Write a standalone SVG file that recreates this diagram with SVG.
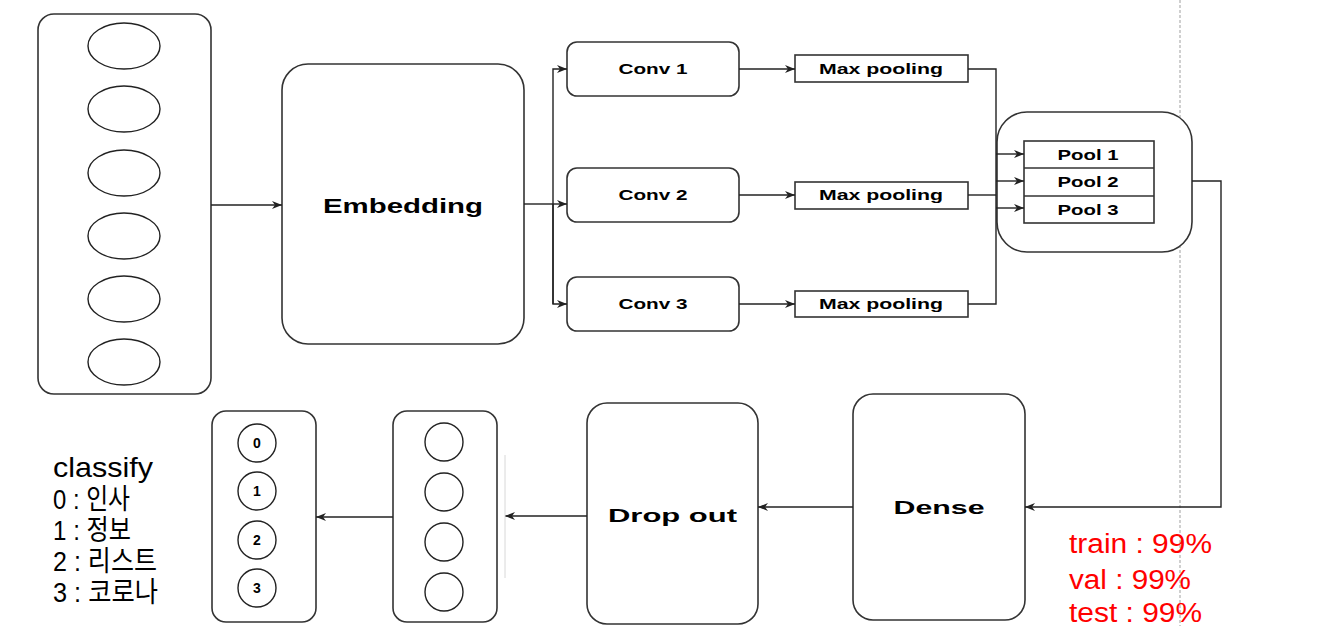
<svg xmlns="http://www.w3.org/2000/svg" width="1325" height="626" viewBox="0 0 1325 626">
<style>
.box{fill:#fff;stroke:#333;stroke-width:1.6}
.sq{fill:#fff;stroke:#333;stroke-width:1.6}
.neu{fill:#fff;stroke:#222;stroke-width:1.4}
.lbl{font-family:"Liberation Sans",Arial,sans-serif;font-weight:bold;fill:#000;text-anchor:middle}
.con{fill:none;stroke:#222;stroke-width:1.4}
.red{font-family:"Liberation Sans",Arial,sans-serif;font-size:27px;fill:#ff0000}
.cls{font-family:"Liberation Sans","Noto Sans CJK KR",sans-serif;font-size:28px;fill:#000}
</style>
<defs>
<marker id="arr" viewBox="0 0 10 10" refX="10" refY="5" markerWidth="10" markerHeight="10" markerUnits="userSpaceOnUse" orient="auto">
<path d="M0,1 L10,5 L0,9 L3,5 z" fill="#222"/>
</marker>
</defs>
<rect width="1325" height="626" fill="#fff"/>
<line x1="1180" y1="0" x2="1180" y2="626" stroke="#cfcfcf" stroke-width="2" stroke-dasharray="3 2"/>

<g id="input">
<rect class="box" x="38" y="14" width="173" height="380" rx="16"/>
<ellipse class="neu" cx="124" cy="46" rx="36" ry="23"/>
<ellipse class="neu" cx="124" cy="109" rx="36" ry="23"/>
<ellipse class="neu" cx="124" cy="173" rx="36" ry="23"/>
<ellipse class="neu" cx="124" cy="236" rx="36" ry="23"/>
<ellipse class="neu" cx="124" cy="299" rx="36" ry="23"/>
<ellipse class="neu" cx="124" cy="362" rx="36" ry="23"/>
</g>

<g id="embedding">
<rect class="box" x="282" y="64" width="242" height="280" rx="26"/>
<text class="lbl" x="403" y="213" font-size="21" textLength="160" lengthAdjust="spacingAndGlyphs">Embedding</text>
</g>

<g id="conv1">
<rect class="box" x="567" y="42" width="172" height="54" rx="10"/>
<text class="lbl" x="653" y="74" font-size="14" textLength="69" lengthAdjust="spacingAndGlyphs">Conv 1</text>
</g>
<g id="conv2">
<rect class="box" x="567" y="168" width="172" height="54" rx="10"/>
<text class="lbl" x="653" y="200" font-size="14" textLength="69" lengthAdjust="spacingAndGlyphs">Conv 2</text>
</g>
<g id="conv3">
<rect class="box" x="567" y="277" width="172" height="54" rx="10"/>
<text class="lbl" x="653" y="309" font-size="14" textLength="69" lengthAdjust="spacingAndGlyphs">Conv 3</text>
</g>

<g id="maxpool1">
<rect class="sq" x="795" y="55" width="173" height="27"/>
<text class="lbl" x="881" y="74" font-size="14" textLength="124" lengthAdjust="spacingAndGlyphs">Max pooling</text>
</g>
<g id="maxpool2">
<rect class="sq" x="795" y="182" width="173" height="27"/>
<text class="lbl" x="881" y="200" font-size="14" textLength="124" lengthAdjust="spacingAndGlyphs">Max pooling</text>
</g>
<g id="maxpool3">
<rect class="sq" x="795" y="291" width="173" height="26"/>
<text class="lbl" x="881" y="309" font-size="14" textLength="124" lengthAdjust="spacingAndGlyphs">Max pooling</text>
</g>

<g id="pool-container">
<rect class="box" x="997" y="112" width="195" height="140" rx="30"/>
</g>
<g id="pools">
<rect class="sq" x="1024" y="141" width="130" height="82"/>
<line x1="1024" y1="168" x2="1154" y2="168" stroke="#333" stroke-width="1.6"/>
<line x1="1024" y1="196" x2="1154" y2="196" stroke="#333" stroke-width="1.6"/>
<text class="lbl" x="1088" y="159.5" font-size="14" textLength="61" lengthAdjust="spacingAndGlyphs">Pool 1</text>
<text class="lbl" x="1088" y="187" font-size="14" textLength="61" lengthAdjust="spacingAndGlyphs">Pool 2</text>
<text class="lbl" x="1088" y="214.5" font-size="14" textLength="61" lengthAdjust="spacingAndGlyphs">Pool 3</text>
</g>

<g id="dense">
<rect class="box" x="853" y="394" width="172" height="226" rx="20"/>
<text class="lbl" x="939" y="514" font-size="18" textLength="91" lengthAdjust="spacingAndGlyphs">Dense</text>
</g>

<g id="dropout">
<rect class="box" x="587" y="403" width="171" height="221" rx="20"/>
<text class="lbl" x="672.5" y="522" font-size="18" textLength="129" lengthAdjust="spacingAndGlyphs">Drop out</text>
</g>

<g id="hidden">
<rect class="box" x="393" y="411" width="104" height="211" rx="14"/>
<circle class="neu" cx="444" cy="442" r="19"/>
<circle class="neu" cx="444" cy="492" r="19"/>
<circle class="neu" cx="444" cy="542" r="19"/>
<circle class="neu" cx="444" cy="592" r="19"/>
</g>

<g id="output">
<rect class="box" x="212" y="411" width="104" height="211" rx="14"/>
<circle class="neu" cx="257" cy="443" r="19"/>
<circle class="neu" cx="257" cy="491" r="19"/>
<circle class="neu" cx="257" cy="540" r="19"/>
<circle class="neu" cx="257" cy="588" r="19"/>
<text class="lbl" x="257" y="448" font-size="14">0</text>
<text class="lbl" x="257" y="496" font-size="14">1</text>
<text class="lbl" x="257" y="545" font-size="14">2</text>
<text class="lbl" x="257" y="593" font-size="14">3</text>
</g>

<g id="classify-legend">
<text class="cls" x="53" y="477" textLength="100" lengthAdjust="spacingAndGlyphs">classify</text>
<text class="cls" x="53" y="509" textLength="77" lengthAdjust="spacingAndGlyphs">0 : 인사</text>
<text class="cls" x="53" y="540" textLength="78" lengthAdjust="spacingAndGlyphs">1 : 정보</text>
<text class="cls" x="53" y="571" textLength="104" lengthAdjust="spacingAndGlyphs">2 : 리스트</text>
<text class="cls" x="53" y="602" textLength="105" lengthAdjust="spacingAndGlyphs">3 : 코로나</text>
</g>

<g id="accuracy">
<text class="red" x="1069" y="553" textLength="143" lengthAdjust="spacingAndGlyphs">train : 99%</text>
<text class="red" x="1069" y="589" textLength="122" lengthAdjust="spacingAndGlyphs">val : 99%</text>
<text class="red" x="1069" y="622" textLength="133" lengthAdjust="spacingAndGlyphs">test : 99%</text>
</g>

<g id="connectors">
<path class="con" d="M211,205 L282,205" marker-end="url(#arr)"/>
<path class="con" d="M524,204 L553,204"/>
<path class="con" d="M553,204 L567,204" marker-end="url(#arr)"/>
<path class="con" d="M553,304 L553,69 L567,69" marker-end="url(#arr)"/>
<path class="con" d="M553,204 L553,304 L567,304" marker-end="url(#arr)"/>
<path class="con" d="M739,69 L795,69" marker-end="url(#arr)"/>
<path class="con" d="M739,195 L795,195" marker-end="url(#arr)"/>
<path class="con" d="M739,304 L795,304" marker-end="url(#arr)"/>
<path class="con" d="M968,69 L996,69 L996,304 L968,304"/>
<path class="con" d="M968,195 L996,195"/>
<path class="con" d="M996,154 L1024,154" marker-end="url(#arr)"/>
<path class="con" d="M996,181 L1024,181" marker-end="url(#arr)"/>
<path class="con" d="M996,208 L1024,208" marker-end="url(#arr)"/>
<path class="con" d="M1192,181 L1221,181 L1221,507 L1025,507" marker-end="url(#arr)"/>
<path class="con" d="M853,507 L758,507" marker-end="url(#arr)"/>
<path class="con" d="M587,516 L505,516" marker-end="url(#arr)"/>
<line x1="505" y1="455" x2="505" y2="578" stroke="#d8d8d8" stroke-width="1"/>
<path class="con" d="M393,517 L316,517" marker-end="url(#arr)"/>
</g>
</svg>
